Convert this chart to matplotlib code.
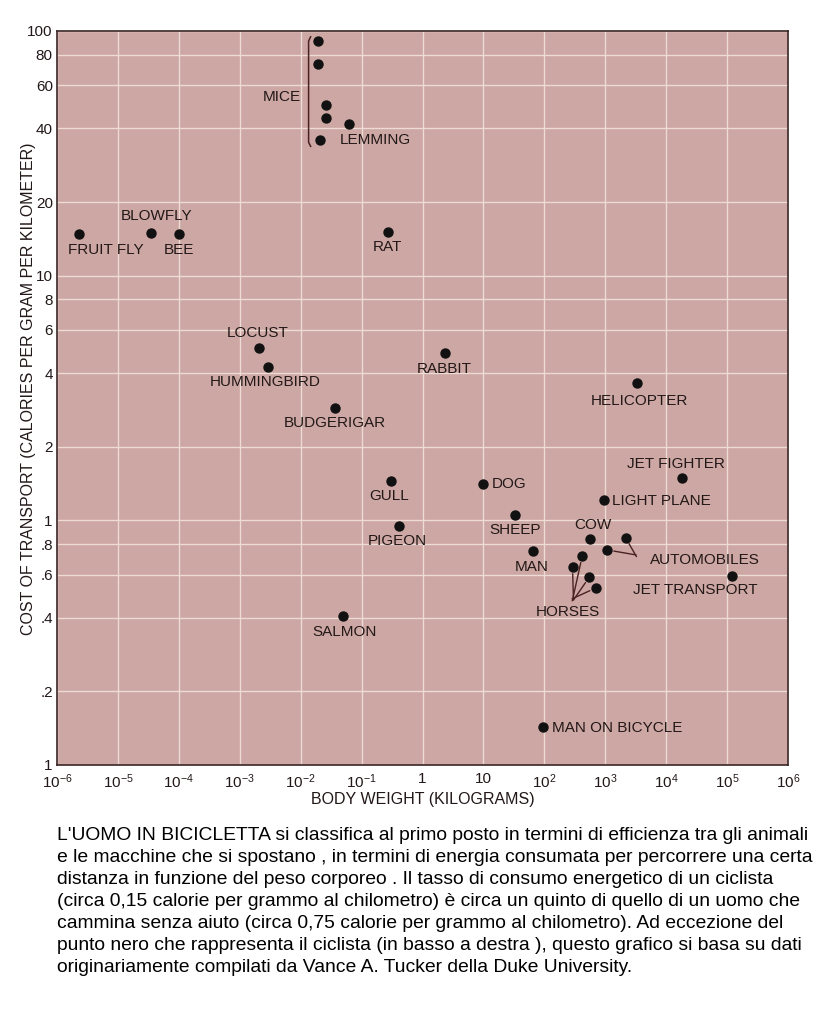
import numpy as np
import matplotlib
matplotlib.use("Agg")
import matplotlib.pyplot as plt

plt.rcParams['font.family'] = ['Liberation Sans', 'DejaVu Sans']
plt.rcParams['mathtext.fontset'] = 'custom'
plt.rcParams['mathtext.rm'] = 'Liberation Sans'
plt.rcParams['mathtext.default'] = 'regular'

# ──────────────────────────────────────────────
# data: body weight (kg) and cost of transport (cal / g / km)
names = ["FRUIT FLY", "BLOWFLY", "BEE", "RAT", "LOCUST", "HUMMINGBIRD", "BUDGERIGAR",
         "RABBIT", "HELICOPTER", "JET FIGHTER", "LIGHT PLANE", "GULL", "DOG", "SHEEP",
         "PIGEON", "COW", "MAN", "JET TRANSPORT", "SALMON", "MAN ON BICYCLE", "LEMMING"]
weight = [2.3e-6, 3.5e-5, 1.0e-4, 0.27, 0.0021, 0.0029, 0.036,
          2.3, 3300, 18000, 940, 0.30, 10, 33,
          0.41, 570, 66, 1.2e5, 0.049, 96, 0.062]
cost = [14.8, 15.0, 14.8, 15.1, 5.07, 4.24, 2.88,
        4.83, 3.64, 1.49, 1.21, 1.45, 1.41, 1.05,
        0.95, 0.84, 0.75, 0.593, 0.406, 0.143, 41.7]
# label offsets in points (dx, dy) and alignment
label_dx = [19, 4, 0, 0, -1, -2, 0, 0, 2, -4, 6, -1, 6, 0, -1, 2, -1, -26, 1, 6, 19]
label_dy = [-11.5, 12, -11.5, -11, 11, -11, -11, -11.5, -13, 10, -0.7, -11, 0, -11, -11, 10, -11.5, -10, -11.5, -0.7, -11.5]
label_ha = ["center", "center", "center", "center", "center", "center", "center",
            "center", "center", "center", "left", "center", "left", "center",
            "center", "center", "center", "center", "center", "left", "center"]

mice_w = [0.019, 0.019, 0.026, 0.026, 0.021]
mice_c = [91, 73, 49.9, 44, 35.9]

horse_w = [420, 290, 550, 710]
horse_c = [0.716, 0.646, 0.587, 0.53]

auto_w = [2150, 1070]
auto_c = [0.85, 0.757]

yticks = [0.1, 0.2, 0.4, 0.6, 0.8, 1, 2, 4, 6, 8, 10, 20, 40, 60, 80, 100]
ytick_labels = ["1", ".2", ".4", ".6", ".8", "1", "2", "4", "6", "8", "10", "20", "40", "60", "80", "100"]
xtick_exp = list(range(-6, 7))

caption = [
    "L'UOMO IN BICICLETTA si classifica al primo posto in termini di efficienza tra gli animali",
    "e le macchine che si spostano , in termini di energia consumata per percorrere una certa",
    "distanza in funzione del peso corporeo . Il tasso di consumo energetico di un ciclista",
    "(circa 0,15 calorie per grammo al chilometro) è circa un quinto di quello di un uomo che",
    "cammina senza aiuto (circa 0,75 calorie per grammo al chilometro). Ad eccezione del",
    "punto nero che rappresenta il ciclista (in basso a destra ), questo grafico si basa su dati",
    "originariamente compilati da Vance A. Tucker della Duke University.",
]

# ──────────────────────────────────────────────
BG = '#cca7a3'
GRID = '#eedbd5'
INK = '#231818'
LINE = '#4a2222'
FS = 11

fig = plt.figure(figsize=(8.18, 10.10), dpi=100)
ax = fig.add_axes([57 / 818, 1 - 765 / 1010, (788 - 57) / 818, (765 - 31) / 1010])
ax.set_facecolor(BG)
ax.set_xscale('log')
ax.set_yscale('log')
ax.set_xlim(1e-6, 1e6)
ax.set_ylim(0.1, 100)

ax.set_xticks([10.0 ** e for e in xtick_exp])
ax.set_xticklabels(["1" if e == 0 else ("10" if e == 1 else "$10^{%d}$" % e) for e in xtick_exp])
ax.set_yticks(yticks)
ax.set_yticklabels(ytick_labels)
ax.minorticks_off()
ax.tick_params(length=0, labelsize=11, labelcolor=INK, pad=3)
ax.tick_params(axis='x', pad=5)
ax.grid(True, color=GRID, lw=1.0)
ax.set_axisbelow(True)
for s in ax.spines.values():
    s.set_color('#3a2525')
    s.set_linewidth(1.2)

ax.set_xlabel("BODY WEIGHT (KILOGRAMS)", fontsize=11.5, color=INK, labelpad=1)
ax.set_ylabel("COST OF TRANSPORT (CALORIES PER GRAM PER KILOMETER)", fontsize=11.5,
              color=INK, va='center')
ax.yaxis.set_label_coords(-0.039, 0.512)

ms = 42
ax.scatter(weight, cost, s=ms, color='#111111', zorder=3)
ax.scatter(mice_w, mice_c, s=ms, color='#111111', zorder=3)
ax.scatter(horse_w, horse_c, s=ms, color='#111111', zorder=3)
ax.scatter(auto_w, auto_c, s=ms, color='#111111', zorder=3)

for n, w, c, dx, dy, ha in zip(names, weight, cost, label_dx, label_dy, label_ha):
    ax.annotate(n, (w, c), xytext=(dx, dy), textcoords='offset points',
                ha=ha, va='center', fontsize=FS, color=INK)

# mice bracket
xb = min(mice_w) * 0.71
yt = max(mice_c) * 1.03
yb = min(mice_c) * 0.95
ax.plot([xb * 1.08, xb, xb, xb * 1.08], [yt * 1.01, yt * 0.97, yb * 1.03, yb * 0.99],
        color=LINE, lw=1.1, zorder=2)
ax.annotate("MICE", (mice_w[1], mice_c[1]), xytext=(-26, -23.7), textcoords='offset points',
            ha='center', va='center', fontsize=FS, color=INK)

# horses
horse_off = [(-7.2, -32.4), (0.7, -23.8), (-11.5, -16.6), (-17.3, -7.9)]
for w, c, off in zip(horse_w, horse_c, horse_off):
    ax.annotate("", (w, c), xytext=off, textcoords='offset points',
                arrowprops=dict(arrowstyle='-', color=LINE, lw=1.0, shrinkA=0, shrinkB=5))
ax.annotate("HORSES", (horse_w[1], horse_c[1]), xytext=(-3, -32.4), textcoords='offset points',
            ha='center', va='center', fontsize=FS, color=INK)

# automobiles
auto_off = [(7.9, -13.7), (20.9, -3.6)]
for w, c, off in zip(auto_w, auto_c, auto_off):
    ax.annotate("", (w, c), xytext=off, textcoords='offset points',
                arrowprops=dict(arrowstyle='-', color=LINE, lw=1.0, shrinkA=0, shrinkB=5))
ax.annotate("AUTOMOBILES", (auto_w[0], auto_c[0]), xytext=(57, -15.8), textcoords='offset points',
            ha='center', va='center', fontsize=FS, color=INK)

# caption
for i, line in enumerate(caption):
    fig.text(57 / 818, 1 - (835 + 22 * i) / 1010, line, fontsize=13.9, color='black',
             ha='left', va='center')

fig.savefig("out.png", dpi=100, facecolor='white')
